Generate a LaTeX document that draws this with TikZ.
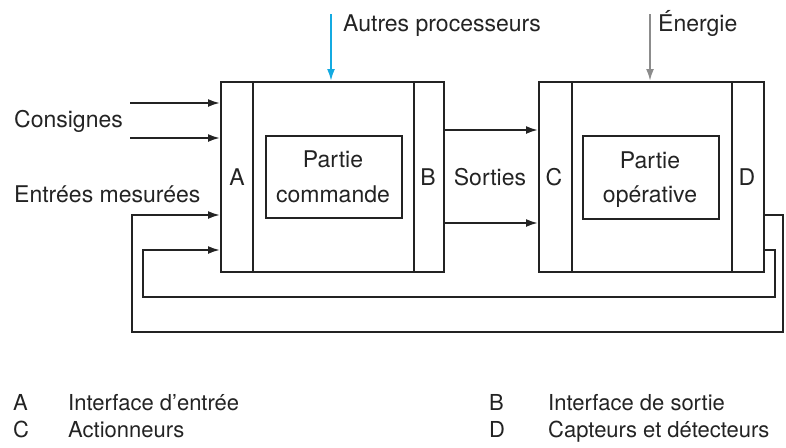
\documentclass[tikz,border=0pt]{standalone}
\usepackage{fontspec}
\setmainfont{TeX Gyre Heros}
\usetikzlibrary{arrows.meta}
\definecolor{ink}{RGB}{35,35,35}
\definecolor{cyanarr}{RGB}{20,170,225}
\definecolor{grayarr}{RGB}{140,140,140}
\begin{document}
\begin{tikzpicture}[x=1pt,y=-1pt,
  every node/.style={inner sep=0pt,font=\fontsize{23}{34}\selectfont,text=ink},
  frame/.style={draw=ink,line width=2pt,rectangle,anchor=north west},
  line/.style={draw=ink,line width=2pt},
  arr/.style={line,-{Latex[length=12pt,width=8pt]}},
  lab/.style={anchor=base},
  leg/.style={anchor=base west,font=\fontsize{22}{26}\selectfont}]
\useasboundingbox (0,0) rectangle (786,447);
% left unit
\node[frame,minimum width=223pt,minimum height=190pt] (pc) at (220,81) {};
\node[frame,minimum width=32pt,minimum height=190pt] (ia) at (220,81) {};
\node[frame,minimum width=30pt,minimum height=190pt] (ib) at (413,81) {};
\node[frame,minimum width=136pt,minimum height=82pt] (cmd) at (265,135) {};
% right unit
\node[frame,minimum width=225pt,minimum height=190pt] (po) at (538,81) {};
\node[frame,minimum width=33pt,minimum height=190pt] (ic) at (538,81) {};
\node[frame,minimum width=32pt,minimum height=190pt] (id) at (731,81) {};
\node[frame,minimum width=136pt,minimum height=83pt] (ope) at (582,135) {};
% labels
\node[lab] (la) at (237,185) {A};
\node[lab] (lb) at (428,185) {B};
\node[lab] (lc) at (554,185) {C};
\node[lab] (ld) at (747,185) {D};
\node[lab] (lsort) at (490,185) {Sorties};
\node[lab] (p1) at (333,167) {Partie};
\node[lab] (p2) at (333,202) {commande};
\node[lab] (q1) at (650,168) {Partie};
\node[lab] (q2) at (650,202) {opérative};
\node[anchor=base west] (cons) at (14,127) {Consignes};
\node[anchor=base west] (ent) at (14,202) {Entrées mesurées};
\node[anchor=base west] (autres) at (343,31) {Autres processeurs};
\node[anchor=base west] (ener) at (658,31) {Énergie};
% legend
\node[leg] (ka) at (13,410) {A};
\node[leg] (ta) at (68,410) {Interface d{\char"27}entrée};
\node[leg] (kc) at (13,437) {C};
\node[leg] (tc) at (68,437) {Actionneurs};
\node[leg] (kb) at (489,410) {B};
\node[leg] (tb) at (548,410) {Interface de sortie};
\node[leg] (kd) at (489,437) {D};
\node[leg] (td) at (548,437) {Capteurs et détecteurs};
% coordinates
\coordinate (c1) at (130,103);
\coordinate (c2) at (130,138);
\coordinate (s1) at (0,130);
\coordinate (s2) at (0,223);
\coordinate (ap) at (331,14);
\coordinate (en) at (650,14);
\coordinate (f1) at (0,215);
\coordinate (f2) at (0,250);
\coordinate (o1) at (783,332);
\coordinate (o2) at (132,332);
\coordinate (i1) at (775,297);
\coordinate (i2) at (143,297);
% arrows
\draw[arr] (c1) -- (c1 -| pc.west);
\draw[arr] (c2) -- (c2 -| pc.west);
\draw[arr] (s1 -| pc.east) -- (s1 -| po.west);
\draw[arr] (s2 -| pc.east) -- (s2 -| po.west);
\draw[line,draw=cyanarr,-{Latex[length=12pt,width=8pt]}] (ap) -- (ap |- pc.north);
\draw[line,draw=grayarr,-{Latex[length=12pt,width=8pt]}] (en) -- (en |- po.north);
\draw[arr] (f1 -| po.east) -- (f1 -| o1) -- (o1) -- (o2) -- (o2 |- f1) -- (f1 -| pc.west);
\draw[arr] (f2 -| po.east) -- (f2 -| i1) -- (i1) -- (i2) -- (i2 |- f2) -- (f2 -| pc.west);
\end{tikzpicture}
\end{document}
